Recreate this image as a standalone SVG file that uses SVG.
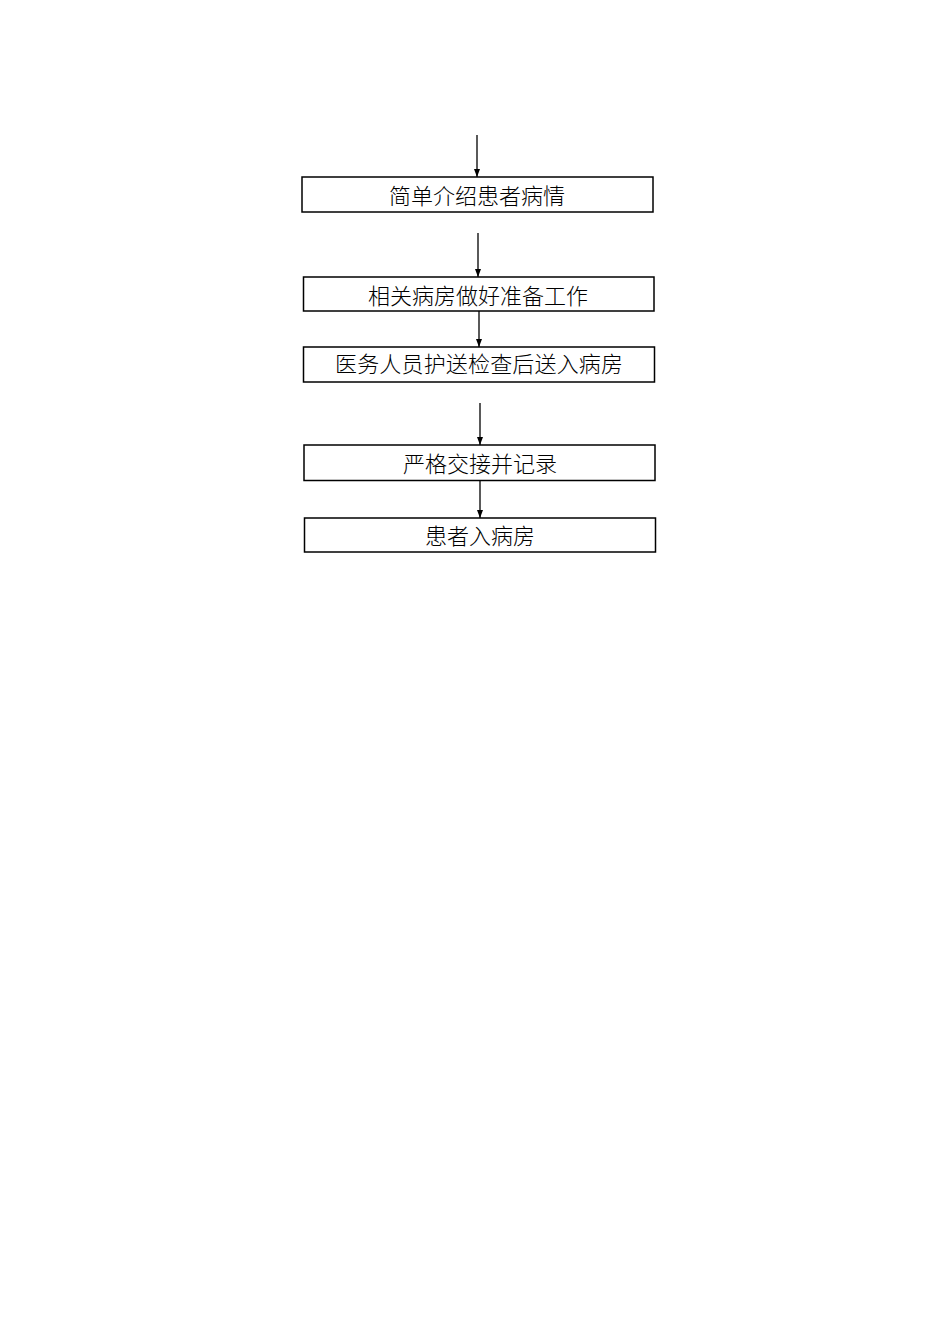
<svg xmlns="http://www.w3.org/2000/svg" width="950" height="1344" viewBox="0 0 950 1344">
<style>
.box{fill:#fff;stroke:#000;stroke-width:1.5}
.lbl{font-family:"Liberation Serif","Noto Sans CJK SC",serif;font-size:22px;font-weight:300;fill:#000;text-anchor:middle}
.edge{stroke:#000;stroke-width:1.3;fill:none;marker-end:url(#arr)}
</style>
<defs>
<marker id="arr" viewBox="0 0 8 6" refX="8" refY="3" markerWidth="8" markerHeight="6" markerUnits="userSpaceOnUse" orient="auto">
<path d="M0,0 L8,3 L0,6 Z" fill="#000"/>
</marker>
</defs>
<rect width="950" height="1344" fill="#fff"/>
<g id="connectors">
<line class="edge" x1="477" y1="135" x2="477" y2="177"/>
<line class="edge" x1="478" y1="233" x2="478" y2="277"/>
<line class="edge" x1="479" y1="311" x2="479" y2="347"/>
<line class="edge" x1="480" y1="403" x2="480" y2="445"/>
<line class="edge" x1="480" y1="481" x2="480" y2="518"/>
</g>
<g id="n1"><rect class="box" x="302" y="177" width="351" height="35"/><text class="lbl" x="477" y="204">简单介绍患者病情</text></g>
<g id="n2"><rect class="box" x="303.5" y="277" width="350.5" height="34"/><text class="lbl" x="478" y="304">相关病房做好准备工作</text></g>
<g id="n3"><rect class="box" x="303.5" y="347" width="351" height="35"/><text class="lbl" x="479" y="372" textLength="288" lengthAdjust="spacing">医务人员护送检查后送入病房</text></g>
<g id="n4"><rect class="box" x="304" y="445" width="351" height="35.5"/><text class="lbl" x="480" y="472">严格交接并记录</text></g>
<g id="n5"><rect class="box" x="304.5" y="518" width="351" height="34"/><text class="lbl" x="480" y="544">患者入病房</text></g>
</svg>
